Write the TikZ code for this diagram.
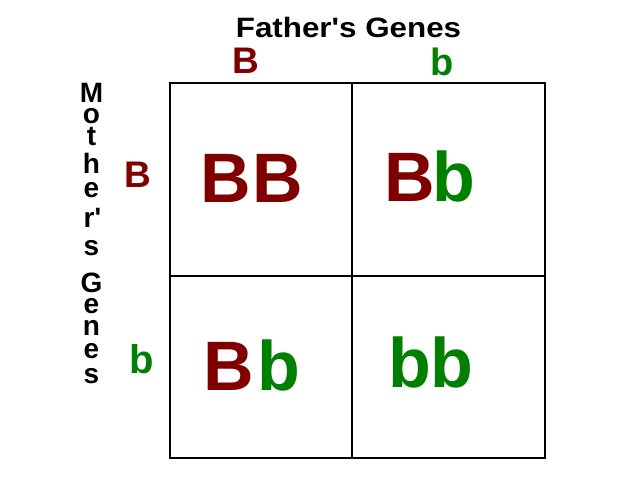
\documentclass[tikz,border=0pt]{standalone}
\usepackage{fontspec}
\setmainfont{Liberation Sans}
\definecolor{domred}{HTML}{800000}
\definecolor{recgreen}{HTML}{008000}
\begin{document}
\begin{tikzpicture}[x=1pt,y=-1pt,
  lbl/.style={inner sep=0pt, font=\bfseries\fontsize{#1}{#1}\selectfont},
  vlet/.style={inner sep=0pt, anchor=base, font=\bfseries\fontsize{28}{28}\selectfont},
  big/.style={inner sep=0pt, anchor=base west, font=\bfseries\fontsize{70}{70}\selectfont},
  grid/.style={line width=1.8pt, black}]
\fill[white] (0,0) rectangle (638,479);
\useasboundingbox (0,0) rectangle (638,479);
% grid
\coordinate (tl) at (170,83);
\coordinate (br) at (545,458);
\draw[grid] (tl) rectangle (br);
\draw[grid] (352,83) -- (352,458);
\draw[grid] (170,276) -- (545,276);
% title
\node[lbl=28, anchor=base] (title) at (348.5,37) {\scalebox{1.12}[1]{Father\textquotesingle s Genes}};
\node[lbl=37, anchor=base west, text=domred] (fB) at (232,73) {B};
\node[lbl=38, anchor=base west, text=recgreen] (fb) at (430,75) {b};
\node[lbl=37, anchor=base west, text=domred] (mB) at (124,187) {B};
\node[lbl=40, anchor=base west, text=recgreen] (mb) at (129,373) {b};
% vertical label
\node[vlet] (v1) at (91.5,102) {M};
\node[vlet] (v2) at (91.5,123) {o};
\node[vlet] (v3) at (91.5,145) {t};
\node[vlet] (v4) at (91.5,173) {h};
\node[vlet] (v5) at (91.5,197) {e};
\node[vlet] (v6) at (92.5,227) {r\textquotesingle};
\node[vlet] (v7) at (91.5,255) {s};
\node[vlet] (v8) at (91.5,292) {G};
\node[vlet] (v9) at (91.5,313) {e};
\node[vlet] (v10) at (91.5,335) {n};
\node[vlet] (v11) at (91.5,358) {e};
\node[vlet] (v12) at (91.5,383) {s};
% cells
\node[big, text=domred] (c1a) at (200,202) {B};
\node[big, text=domred] (c1b) at (252,202) {B};
\node[big, text=domred] (c2a) at (384,201) {B};
\node[big, text=recgreen] (c2b) at (432,201) {b};
\node[big, text=domred] (c3a) at (203,390) {B};
\node[big, text=recgreen] (c3b) at (257,390) {b};
\node[big, text=recgreen] (c4a) at (388,387) {b};
\node[big, text=recgreen] (c4b) at (430,387) {b};
\end{tikzpicture}
\end{document}
